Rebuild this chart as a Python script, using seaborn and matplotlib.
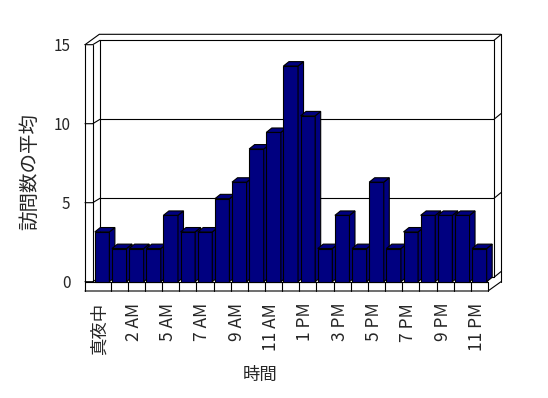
import numpy as np
import pandas as pd
import seaborn as sns
import matplotlib.pyplot as plt
from matplotlib.patches import Polygon

# Data: average visits per hour (hour 3 or 4 has no record in the source)
hours = ["真夜中", "1 AM", "2 AM", "3 AM", "5 AM", "6 AM", "7 AM", "8 AM",
         "9 AM", "10 AM", "11 AM", "正午", "1 PM", "2 PM", "3 PM", "4 PM",
         "5 PM", "6 PM", "7 PM", "8 PM", "9 PM", "10 PM", "11 PM"]
visits = [3.15, 2.1, 2.1, 2.1, 4.2, 3.15, 3.15, 5.25, 6.3, 8.4, 9.45, 13.65,
          10.5, 2.1, 4.2, 2.1, 6.3, 2.1, 3.15, 4.2, 4.2, 4.2, 2.1]
y_ticks = [0, 5, 10, 15]

df = pd.DataFrame({"時間": hours, "訪問数の平均": visits})

sns.set_style("white")
plt.rcParams["font.family"] = ["Noto Sans CJK JP", "DejaVu Sans"]

W, H = 548, 398
fig = plt.figure(figsize=(W / 100, H / 100), dpi=100)
fig.patch.set_facecolor("white")

# pixel <-> data helpers (category center 0 at px 102, 17.15 px per category,
# value 0 at py 281.7, 15.8 px per unit)
PX0, PITCH, PY0, UNIT = 102.1, 17.15, 281.7, 15.8
def dx(px):
    return (px - PX0) / PITCH
def dy(py):
    return (PY0 - py) / UNIT

L, R, T, B = 85, 501, 34, 291
ax = fig.add_axes([L / W, 1 - B / H, (R - L) / W, (B - T) / H])
ax.patch.set_alpha(0)

sns.barplot(data=df, x="時間", y="訪問数の平均", color="#000080", saturation=1,
            width=0.85, edgecolor="black", linewidth=0.8, ax=ax)

ax.set_xlim(dx(L), dx(R))
ax.set_ylim(dy(B), dy(T))
for s in ax.spines.values():
    s.set_visible(False)

DX, DY = 5.5 / PITCH, 4.4 / UNIT
lw = 0.8
line = dict(color="black", lw=lw, clip_on=False, zorder=1)

# 3D faces for each bar
for i, p in enumerate(ax.patches):
    x0, w, h = p.get_x(), p.get_width(), p.get_height()
    z = 3 + i * 2
    p.set_zorder(z)
    side = Polygon([(x0 + w, 0), (x0 + w, h), (x0 + w + DX, h + DY), (x0 + w + DX, DY)],
                   closed=True, facecolor="#000080", edgecolor="black", lw=lw,
                   zorder=z + 1, clip_on=False)
    top = Polygon([(x0, h), (x0 + w, h), (x0 + w + DX, h + DY), (x0 + DX, h + DY)],
                  closed=True, facecolor="#000080", edgecolor="black", lw=lw,
                  zorder=z + 1, clip_on=False)
    ax.add_patch(side)
    ax.add_patch(top)

n = len(hours)
xr = n - 0.5
# back wall gridlines and left wall ticks
for v in y_ticks:
    ax.plot([dx(100), dx(494)], [v + DY, v + DY], **line)
    ax.plot([dx(85), dx(92.7), dx(100)], [v, v, v + DY], **line)
    ax.plot([dx(494), dx(501)], [v + DY, v + DY + 5.7 / UNIT], **line)

# walls frame
ax.plot([dx(85)] * 2, [dy(291), 15], **line)
ax.plot([dx(92.7)] * 2, [0, 15], **line)
ax.plot([dx(100)] * 2, [DY, 15 + DY], **line)
ax.plot([dx(85), dx(99.3), dx(501)], [15, dy(34.3), dy(34.3)], **line)
ax.plot([dx(494)] * 2, [DY, 15 + DY], **line)
ax.plot([dx(501)] * 2, [dy(281.7), dy(34.3)], **line)

# floor front strip with category cells
ax.plot([dx(85), xr], [0, 0], **line)
ax.plot([dx(85), xr, dx(501)], [dy(291), dy(291), dy(281.7)], **line)
for k in range(n):
    ax.plot([k + 0.5] * 2, [dy(291), 0], **line)

ax.set_xticks([k - 0.15 for k in range(0, n, 2)])
ax.set_xticklabels(hours[::2], rotation=90, fontsize=12.5)
ax.set_yticks(y_ticks)
ax.set_yticklabels([str(v) for v in y_ticks], fontsize=11)
ax.tick_params(axis="x", length=0, pad=8.5)
ax.tick_params(axis="y", length=0, pad=10.5)
ax.set_xlabel("")
ax.set_ylabel("")

fig.text(260 / W, 1 - 375 / H, "時間", ha="center", va="center", fontsize=12.5)
fig.text(30 / W, 1 - 172 / H, "訪問数の平均", ha="center", va="center",
         rotation=90, fontsize=14)

fig.savefig("out.png", dpi=100)
